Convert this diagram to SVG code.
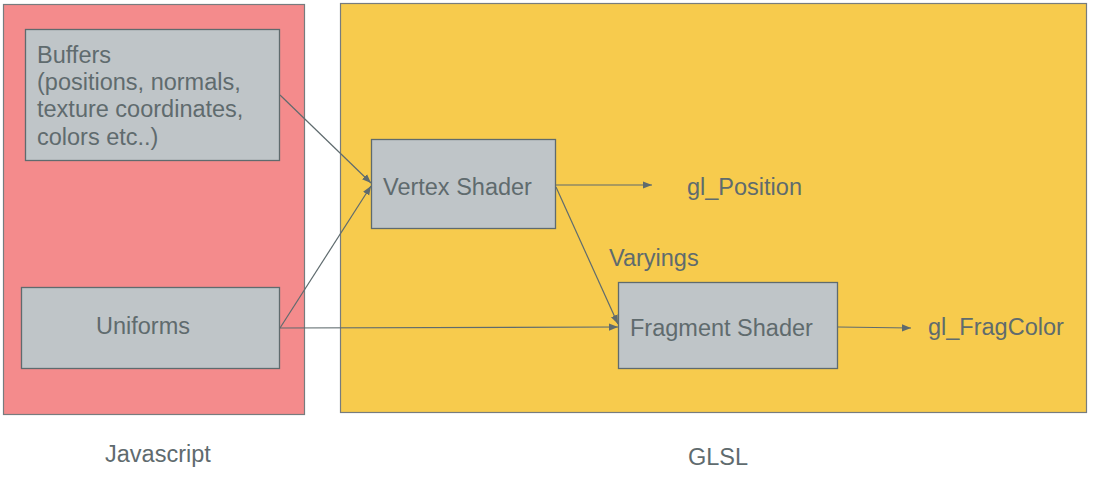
<svg xmlns="http://www.w3.org/2000/svg" width="1094" height="482" viewBox="0 0 1094 482">
<style>
text{font-family:"Liberation Sans",Arial,sans-serif;font-size:23.5px;fill:#5f6b6e}
.panel{stroke:#777c7e;stroke-width:1.2}
.box{fill:#bfc5c8;stroke:#5f6b6e;stroke-width:1.3}
.con{stroke:#5f6b6e;stroke-width:1.2;fill:none;marker-end:url(#ah)}
</style>
<defs>
<marker id="ah" viewBox="0 0 10 10" refX="10" refY="5" markerWidth="9" markerHeight="9" markerUnits="userSpaceOnUse" orient="auto">
<path d="M0,1 L10,5 L0,9 Z" fill="#5f6b6e"/>
</marker>
</defs>
<rect width="1094" height="482" fill="#ffffff"/>
<g id="javascript-panel">
<rect class="panel" x="3.5" y="4.5" width="301" height="410" fill="#f48b8c"/>
<text x="105" y="462">Javascript</text>
</g>
<g id="glsl-panel">
<rect class="panel" x="340.5" y="3.5" width="746" height="409" fill="#f7cb4d"/>
<text x="688" y="465">GLSL</text>
</g>
<g id="buffers">
<rect class="box" x="25.5" y="29.5" width="254" height="131"/>
<text x="37" y="63">Buffers</text>
<text x="37" y="90">(positions, normals,</text>
<text x="37" y="117">texture coordinates,</text>
<text x="37" y="145">colors etc..)</text>
</g>
<g id="uniforms">
<rect class="box" x="21.5" y="287.5" width="258" height="81"/>
<text x="96" y="334">Uniforms</text>
</g>
<g id="vertex-shader">
<rect class="box" x="371.5" y="139.5" width="184" height="89"/>
<text x="383" y="195">Vertex Shader</text>
</g>
<g id="fragment-shader">
<rect class="box" x="618.5" y="282.5" width="219" height="86"/>
<text x="630" y="336">Fragment Shader</text>
</g>
<g id="gl-position"><text x="687" y="195">gl_Position</text></g>
<g id="varyings"><text x="609" y="266">Varyings</text></g>
<g id="gl-fragcolor"><text x="928" y="335">gl_FragColor</text></g>
<g id="connectors">
<line class="con" x1="280" y1="95" x2="371" y2="183"/>
<line class="con" x1="280" y1="328" x2="371" y2="186"/>
<line class="con" x1="280" y1="328" x2="618" y2="327"/>
<line class="con" x1="556" y1="185" x2="652" y2="185"/>
<line class="con" x1="556" y1="187" x2="618" y2="324"/>
<line class="con" x1="838" y1="327" x2="911" y2="328"/>
</g>
</svg>
